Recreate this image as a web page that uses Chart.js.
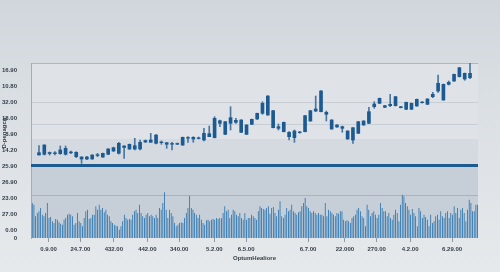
<!DOCTYPE html>
<html>
<head>
<meta charset="utf-8">
<script src="https://cdn.jsdelivr.net/npm/chart.js@4.4.1/dist/chart.umd.min.js"></script>
<style>
  html, body { margin: 0; padding: 0; background: #e2e6ea; }
</style>
</head>
<body>
<canvas id="chart" width="500" height="272"></canvas>
<script>
// candlesticks (price units of the upper panel)
const open  = [8.30,8.37,8.45,8.44,8.43,8.37,8.60,8.57,8.10,7.90,7.90,8.33,8.10,8.37,8.70,8.47,9.20,8.90,9.23,8.90,
               9.60,9.80,9.47,9.60,9.53,9.45,9.38,9.30,10.05,9.90,9.95,9.80,10.13,10.03,11.73,11.63,11.47,11.77,10.57,11.30,
               11.37,11.90,12.47,12.30,12.73,11.13,10.63,10.57,10.03,10.60,10.63,11.70,12.70,12.63,12.57,11.80,11.30,11.13,10.70,9.80,
               10.47,11.30,11.47,13.13,13.47,13.23,13.37,13.23,13.13,12.87,13.47,13.20,13.60,13.37,14.13,14.70,15.37,15.37,15.70,16.13,
               16.47,16.03];
const close = [8.53,9.30,8.55,8.52,8.80,8.97,8.52,8.13,7.90,8.10,8.30,8.25,8.47,8.90,9.03,9.47,9.05,9.37,8.90,9.57,
               9.75,9.57,10.30,9.53,9.37,9.38,9.45,10.07,9.98,10.07,10.02,10.47,10.43,11.97,11.47,10.37,12.03,11.57,11.80,10.37,
               11.87,12.47,13.47,14.20,11.03,10.97,11.57,10.13,10.70,10.54,12.23,12.73,12.90,14.70,12.37,10.90,11.10,10.97,9.90,11.03,
               11.63,11.70,12.63,13.40,13.97,13.07,13.23,14.13,13.03,13.57,12.87,13.87,13.53,13.90,14.37,15.47,13.80,15.57,16.37,17.03,
               15.90,16.47];
const high  = [9.23,9.33,8.60,8.63,9.20,9.20,8.70,8.63,8.13,8.17,8.33,8.47,8.50,8.95,9.08,9.57,9.23,9.40,9.97,9.80,
               9.80,10.47,10.35,9.70,9.57,9.57,9.50,10.10,10.13,10.13,10.10,10.97,11.20,12.13,11.80,11.66,13.13,11.97,11.83,11.33,
               11.90,12.50,13.63,14.23,12.76,11.40,11.60,10.63,10.80,10.66,12.26,12.76,14.20,14.73,12.70,11.83,11.33,11.20,10.73,11.03,
               11.66,11.73,13.07,13.63,14.00,13.26,14.37,14.16,13.16,13.60,13.50,13.90,13.65,13.93,14.57,16.30,15.40,15.70,16.40,17.06,
               16.50,17.70];
const low   = [8.30,8.30,8.30,8.30,8.37,8.30,8.43,8.03,7.47,7.83,7.87,8.13,8.05,8.33,8.65,8.40,7.97,8.85,8.80,8.80,
               9.55,9.57,9.42,9.37,8.97,8.80,9.33,9.25,9.57,9.57,9.90,9.70,10.13,10.00,11.13,10.33,10.80,11.47,10.53,10.33,
               11.33,11.87,12.37,12.27,11.00,10.80,10.60,9.80,9.57,10.48,10.60,11.67,12.63,12.60,11.70,10.87,11.07,10.57,9.87,9.47,
               10.44,11.27,11.44,12.97,13.44,13.04,13.13,13.20,13.00,12.84,12.84,13.17,13.48,13.34,14.03,14.57,13.77,15.30,15.67,16.10,
               15.77,15.93];

// volume bars of the lower panel
const volume = [1050,1000,650,750,800,900,700,650,750,1050,600,630,500,450,570,550,470,430,400,550,
                600,700,730,700,650,400,450,750,500,450,350,600,800,850,570,600,700,700,950,850,
                1000,850,900,770,850,700,650,500,450,400,370,350,250,350,500,700,600,550,570,550,
                700,800,850,750,1000,750,650,600,700,750,650,700,650,600,700,600,900,850,1050,1370,
                850,600,850,750,650,450,350,400,450,470,450,600,750,900,1270,900,850,750,700,600,
                700,550,450,400,530,550,500,550,570,550,600,570,600,590,750,950,800,850,600,700,
                850,800,700,650,750,600,550,750,550,600,
                600,700,650,600,550,800,950,900,870,850,900,950,730,900,930,750,650,850,1100,650,
                600,700,900,800,850,1000,800,750,700,770,800,950,1050,1200,950,900,800,750,800,750,
                700,750,700,700,650,1050,650,850,800,750,700,650,750,730,800,800,550,500,530,500,
                450,600,650,700,850,900,800,650,600,350,1000,850,650,750,800,700,600,700,1050,900,
                800,800,650,750,600,550,700,850,750,500,1000,1300,1250,1050,950,850,700,870,750,650,
                350,900,800,600,700,630,550,350,700,450,500,650,700,550,800,650,600,750,800,600,
                750,700,950,750,900,600,850,900,750,500,850,1150,1050,800,800,1000,1000];

// axis texts
const xTickLabels = ['0.9.00','24.7.00','432.00','442.00','340.00','5.2.00','6.5.00','6.7.00','22.000','270.00','4.2.00','6.29.00'];
const xTickAt = [10, 29, 49, 69, 88, 109, 128, 165, 187, 206, 226, 251];
const yTickLabels = ['0','0.00','27.00','23.00','26.90','25.90','14.20','8.90','18.00','32.00','10.80','16.90'];
const xTitle = 'OptumHealiore';
const yTitle = 'D-penagcg';

const txt = '#36404a';
const tickFont = { family: 'Liberation Sans', size: 6, weight: 'bold' };

const barLabels = volume.map((_, i) => {
  const k = xTickAt.indexOf(i);
  return k >= 0 ? xTickLabels[k] : '';
});
const candleSlots = ['', ...open.map((_, i) => String(i + 1)), ''];
const bodies = [null, ...open.map((o, i) => [o, close[i]]), null];
const wicks = [null, ...low.map((l, i) => [l, high[i]]), null];
const yTickPos = yTickLabels.map((_, i) => i === 0 ? 0 : 8 + 16 * (i - 1));

const panels = {
  id: 'panels',
  beforeDraw(chart) {
    const { ctx, chartArea: a, scales } = chart;
    const y = scales.yl;
    const g = ctx.createLinearGradient(0, 0, 0, chart.height);
    g.addColorStop(0, '#d1d6dc');
    g.addColorStop(0.3, '#d9dee3');
    g.addColorStop(1, '#e6e9ec');
    ctx.save();
    ctx.fillStyle = g;
    ctx.fillRect(0, 0, chart.width, chart.height);
    const band = (from, to, color) => {
      const t = y.getPixelForValue(to), b = y.getPixelForValue(from);
      ctx.fillStyle = color;
      ctx.fillRect(a.left, t, a.right - a.left, b - t);
    };
    band(99, 175, '#dfe3e7');
    band(72.5, 99, '#d4dae0');
    band(0, 72.5, '#c6cfd8');
    const line = (v, color) => {
      const p = Math.round(y.getPixelForValue(v)) + 0.5;
      ctx.strokeStyle = color;
      ctx.lineWidth = 1;
      ctx.beginPath();
      ctx.moveTo(a.left, p);
      ctx.lineTo(a.right, p);
      ctx.stroke();
    };
    line(175, '#aeb6bf');
    line(136.3, '#c8ced5');
    line(114, '#c8ced5');
    line(43, '#a8b3be');
    ctx.restore();
  },
  afterDatasetsDraw(chart) {
    const { ctx, chartArea: a, scales } = chart;
    const p = scales.yl.getPixelForValue(72.5);
    ctx.save();
    ctx.strokeStyle = '#1b5b8f';
    ctx.lineWidth = 3;
    ctx.beginPath();
    ctx.moveTo(a.left, p);
    ctx.lineTo(a.right, p);
    ctx.stroke();
    // rotated y title
    ctx.translate(4, scales.yl.getPixelForValue(105));
    ctx.rotate(-Math.PI / 2);
    ctx.fillStyle = txt;
    ctx.font = 'bold 6px "Liberation Sans"';
    ctx.textAlign = 'center';
    ctx.textBaseline = 'middle';
    ctx.fillText(yTitle, 0, 0);
    ctx.restore();
  }
};

new Chart(document.getElementById('chart'), {
  type: 'bar',
  data: {
    datasets: [
      { data: bodies, xAxisID: 'xc', yAxisID: 'yc', backgroundColor: '#1c5a91',
        barThickness: 3, grouped: false, order: 0, borderWidth: 0 },
      { data: wicks, xAxisID: 'xc', yAxisID: 'yc', backgroundColor: '#4a77a1',
        barThickness: 1, grouped: false, order: 1, borderWidth: 0 },
      { data: volume, xAxisID: 'xb', yAxisID: 'yv', backgroundColor: '#1f6dab',
        barPercentage: 0.92, categoryPercentage: 1, order: 2, borderWidth: 0 }
    ]
  },
  options: {
    responsive: false,
    animation: false,
    layout: { padding: { left: 0, right: 22, top: 63, bottom: 9 } },
    plugins: { legend: { display: false }, tooltip: { enabled: false } },
    scales: {
      xc: { type: 'category', labels: candleSlots, display: false, offset: true },
      xb: {
        type: 'category', position: 'bottom', labels: barLabels, offset: true,
        grid: { display: true, drawOnChartArea: false, drawTicks: true, tickLength: 4, offset: false, color: '#8d99a6' },
        border: { display: false },
        ticks: { autoSkip: false, maxRotation: 0, padding: 4, font: tickFont, color: txt },
        afterBuildTicks: s => { s.ticks = s.ticks.filter(t => barLabels[t.value] !== ''); },
        title: { display: true, text: xTitle, padding: { top: 0, bottom: 1 }, font: tickFont, color: txt },
        afterFit: s => { s.height = 25; }
      },
      yc: { type: 'linear', min: 0, max: 17.5, display: false },
      yv: { type: 'linear', min: 0, max: 5250, display: false },
      yl: {
        type: 'linear', position: 'left', min: 0, max: 175,
        grid: { display: false },
        border: { display: true, color: '#a3adb7', width: 1 },
        ticks: { padding: 6, font: tickFont, color: txt, callback: (v, i) => yTickLabels[i] },
        afterBuildTicks: s => { s.ticks = yTickPos.map(v => ({ value: v })); },
        afterFit: s => { s.width = 31; }
      }
    }
  },
  plugins: [panels]
});
</script>
</body>
</html>
